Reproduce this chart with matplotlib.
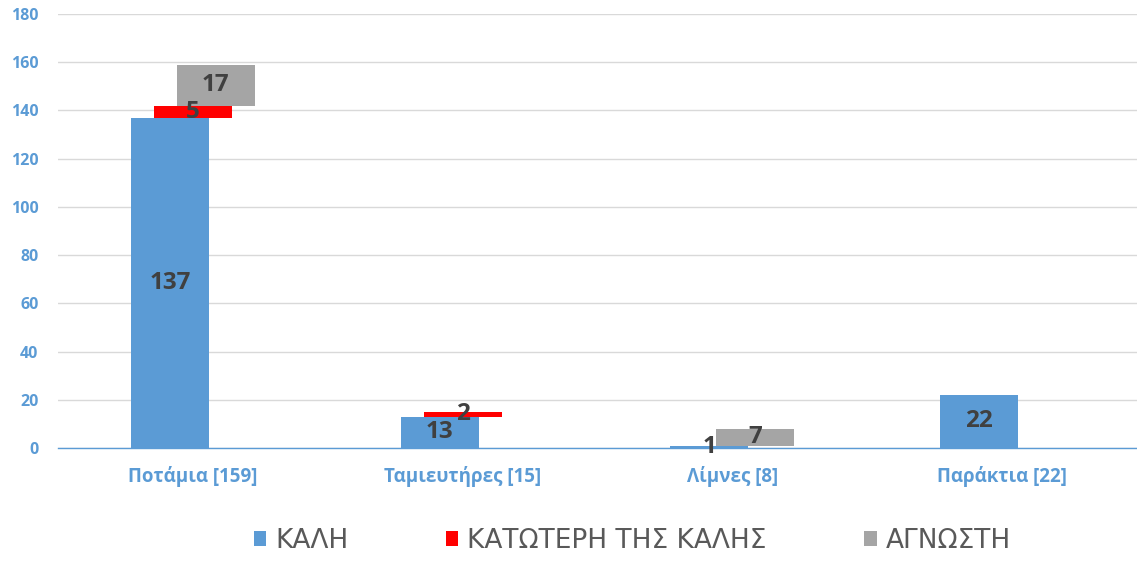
import numpy as np
import matplotlib
matplotlib.use("Agg")
import matplotlib.pyplot as plt
from matplotlib.patches import Patch

# data
categories = ["Ποτάμια [159]", "Ταμιευτήρες [15]", "Λίμνες [8]", "Παράκτια [22]"]
kali = [137, 13, 1, 22]
katoteri = [5, 2, 0, 0]
agnosti = [17, 0, 7, 0]
series_names = ["ΚΑΛΗ", "ΚΑΤΩΤΕΡΗ ΤΗΣ ΚΑΛΗΣ", "ΑΓΝΩΣΤΗ"]
y_ticks = [0, 20, 40, 60, 80, 100, 120, 140, 160, 180]

BLUE = "#5B9BD5"
RED = "#FF0000"
GRAY = "#A5A5A5"
LABEL = "#404040"

plt.rcParams["font.family"] = ["Open Sans", "DejaVu Sans"]

fig = plt.figure(figsize=(11.37, 5.68), dpi=100)
ax = fig.add_axes([0.051, 0.2113, 0.949, 0.7641])

x = np.arange(len(categories))
width = 0.289
offset = 0.085

kali = np.array(kali, dtype=float)
katoteri = np.array(katoteri, dtype=float)
agnosti = np.array(agnosti, dtype=float)

bottoms = [np.zeros_like(kali), kali, kali + katoteri]
values = [kali, katoteri, agnosti]
colors = [BLUE, RED, GRAY]
shifts = [-offset, 0.0, offset]

for vals, bot, col, sh in zip(values, bottoms, colors, shifts):
    ax.bar(x + sh, vals, width, bottom=bot, color=col, zorder=2)
    for xi, v, b in zip(x + sh, vals, bot):
        if v > 0:
            ax.text(xi, b + v / 2, f"{int(v)}", ha="center", va="center",
                    fontsize=17.5, fontweight="bold", color=LABEL, zorder=3)

ax.set_xlim(-0.5, len(categories) - 0.5)
ax.set_ylim(0, 180)
ax.set_yticks(y_ticks)
ax.set_xticks(x)
ax.set_xticklabels(categories)
ax.yaxis.grid(True, color="#D9D9D9", linewidth=1.0, zorder=0)
ax.set_axisbelow(True)
for s in ["top", "right", "left"]:
    ax.spines[s].set_visible(False)
ax.spines["bottom"].set_color(BLUE)
ax.spines["bottom"].set_linewidth(1.0)
ax.tick_params(axis="y", length=0, pad=14, labelsize=11.5, labelcolor=BLUE)
ax.tick_params(axis="x", length=0, pad=13, labelsize=13.5, labelcolor=BLUE)
for lab in ax.get_yticklabels() + ax.get_xticklabels():
    lab.set_fontweight("bold")

handles = [Patch(facecolor=c, edgecolor="none") for c in colors]
fig.legend(handles, series_names, loc="center", bbox_to_anchor=(0.556, 0.0475),
           ncol=3, frameon=False, labelcolor="#595959",
           prop={"family": ["Liberation Sans Narrow", "DejaVu Sans"], "size": 19},
           handlelength=0.47, handleheight=0.47, handletextpad=0.34,
           columnspacing=3.7)

fig.savefig("out.png", dpi=100)
